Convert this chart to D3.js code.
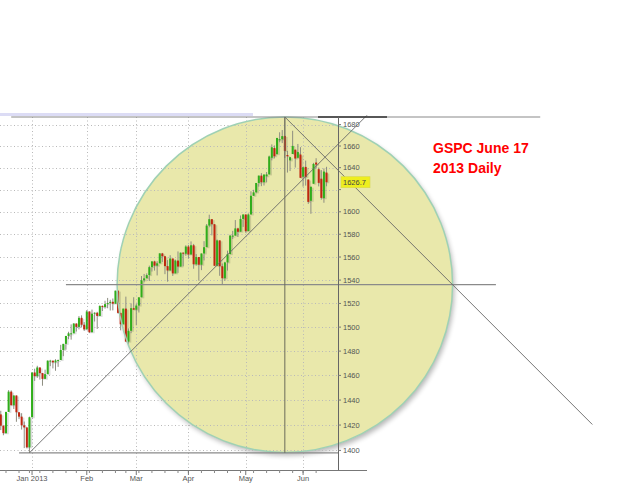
<!DOCTYPE html>
<html><head><meta charset="utf-8">
<script src="https://cdn.jsdelivr.net/npm/d3@7"></script>
<style>html,body{margin:0;padding:0;background:#fff;overflow:hidden}</style>
</head><body>
<svg id="chart" width="640" height="484"></svg>
<script>
// ---- data (S&P 500 daily) ----
const dates = ["2012-12-13","2012-12-14","2012-12-17","2012-12-18","2012-12-19","2012-12-20","2012-12-21","2012-12-24","2012-12-26","2012-12-27","2012-12-28","2012-12-31",
"2013-01-02","2013-01-03","2013-01-04","2013-01-07","2013-01-08","2013-01-09","2013-01-10","2013-01-11","2013-01-14","2013-01-15","2013-01-16","2013-01-17","2013-01-18","2013-01-22","2013-01-23","2013-01-24","2013-01-25","2013-01-28","2013-01-29","2013-01-30","2013-01-31",
"2013-02-01","2013-02-04","2013-02-05","2013-02-06","2013-02-07","2013-02-08","2013-02-11","2013-02-12","2013-02-13","2013-02-14","2013-02-15","2013-02-19","2013-02-20","2013-02-21","2013-02-22","2013-02-25","2013-02-26","2013-02-27","2013-02-28",
"2013-03-01","2013-03-04","2013-03-05","2013-03-06","2013-03-07","2013-03-08","2013-03-11","2013-03-12","2013-03-13","2013-03-14","2013-03-15","2013-03-18","2013-03-19","2013-03-20","2013-03-21","2013-03-22","2013-03-25","2013-03-26","2013-03-27","2013-03-28",
"2013-04-01","2013-04-02","2013-04-03","2013-04-04","2013-04-05","2013-04-08","2013-04-09","2013-04-10","2013-04-11","2013-04-12","2013-04-15","2013-04-16","2013-04-17","2013-04-18","2013-04-19","2013-04-22","2013-04-23","2013-04-24","2013-04-25","2013-04-26","2013-04-29","2013-04-30",
"2013-05-01","2013-05-02","2013-05-03","2013-05-06","2013-05-07","2013-05-08","2013-05-09","2013-05-10","2013-05-13","2013-05-14","2013-05-15","2013-05-16","2013-05-17","2013-05-20","2013-05-21","2013-05-22","2013-05-23","2013-05-24","2013-05-28","2013-05-29","2013-05-30","2013-05-31",
"2013-06-03","2013-06-04","2013-06-05","2013-06-06","2013-06-07","2013-06-10","2013-06-11","2013-06-12","2013-06-13","2013-06-14"];
const opens = [1428.5,1419.5,1413.5,1430.5,1446.8,1435.8,1443.7,1430.2,1426.7,1419.8,1418.1,1402.4,
1426.2,1462.4,1459.4,1466.5,1461.9,1457.2,1461.0,1472.1,1472.1,1470.7,1472.3,1472.6,1480.9,1486.0,1492.6,1494.8,1494.8,1503.0,1500.2,1507.8,1502.0,
1498.1,1513.2,1495.7,1511.3,1512.1,1509.4,1517.9,1517.0,1519.4,1520.3,1521.4,1519.8,1530.9,1512.0,1502.4,1515.6,1487.9,1496.9,1516.0,
1514.7,1518.2,1525.2,1539.8,1541.5,1544.3,1551.2,1556.2,1552.5,1554.5,1563.2,1560.7,1552.1,1548.3,1558.7,1545.8,1556.9,1551.7,1563.8,1562.9,
1569.2,1562.2,1570.3,1553.7,1560.0,1553.3,1563.1,1568.6,1587.7,1593.4,1588.9,1552.4,1574.6,1552.0,1541.6,1555.3,1562.5,1578.8,1578.8,1585.2,1582.3,1593.6,
1597.6,1582.8,1597.6,1614.4,1617.5,1626.0,1632.7,1626.7,1632.1,1633.8,1649.1,1658.1,1652.4,1665.7,1666.2,1669.4,1651.6,1646.7,1652.6,1656.6,1649.1,1652.1,
1631.7,1640.7,1629.1,1609.9,1625.3,1644.7,1638.6,1629.9,1612.2,1635.5];
const highs = [1431.4,1419.5,1430.7,1448.0,1447.8,1443.7,1443.7,1430.2,1429.4,1422.8,1418.1,1426.7,
1462.4,1465.5,1467.9,1466.5,1461.9,1464.7,1472.3,1472.8,1472.1,1473.3,1473.0,1485.2,1486.0,1492.6,1496.1,1502.3,1503.3,1503.2,1509.3,1509.9,1504.2,
1514.4,1513.2,1514.8,1512.5,1512.9,1518.3,1518.3,1522.3,1524.7,1523.1,1524.2,1530.9,1530.9,1512.0,1515.6,1525.8,1498.9,1520.1,1525.3,
1519.9,1525.3,1543.5,1545.3,1545.8,1552.5,1556.3,1556.8,1556.4,1563.3,1563.6,1560.7,1557.3,1561.6,1558.7,1557.7,1564.9,1563.9,1564.1,1570.3,
1570.6,1573.7,1571.5,1562.6,1560.0,1563.1,1573.9,1589.1,1597.4,1593.4,1588.9,1575.4,1574.6,1554.4,1555.9,1565.6,1579.6,1583.0,1592.6,1585.8,1596.7,1597.6,
1597.6,1598.6,1618.5,1619.8,1626.0,1632.8,1635.0,1633.7,1636.0,1651.1,1661.5,1660.5,1667.5,1672.8,1674.9,1687.2,1655.5,1649.8,1674.2,1656.6,1661.9,1658.9,
1640.4,1646.5,1629.3,1622.6,1644.4,1648.7,1640.1,1637.7,1639.3,1640.8];
const lows = [1416.0,1411.9,1413.5,1430.5,1435.8,1432.8,1422.6,1424.7,1416.4,1401.8,1401.6,1398.1,
1426.2,1455.5,1458.0,1456.6,1451.6,1457.2,1461.0,1467.6,1465.7,1463.8,1467.0,1472.6,1475.8,1481.2,1489.9,1489.5,1494.8,1496.3,1498.1,1500.1,1496.8,
1498.1,1495.0,1495.7,1504.7,1498.5,1509.4,1513.6,1515.6,1515.9,1514.0,1514.1,1519.8,1511.4,1497.3,1502.4,1487.9,1485.0,1494.9,1514.7,
1501.5,1512.3,1525.2,1538.1,1541.5,1539.2,1547.4,1548.2,1544.0,1554.5,1555.7,1545.1,1538.6,1548.3,1543.6,1545.8,1546.2,1551.7,1551.9,1561.1,
1558.5,1562.2,1549.8,1552.5,1539.5,1548.6,1557.0,1568.6,1586.2,1579.0,1552.3,1552.4,1543.7,1536.0,1539.4,1548.2,1562.5,1575.8,1578.8,1577.6,1582.3,1586.5,
1581.3,1582.8,1597.6,1614.2,1616.6,1622.7,1623.1,1623.7,1626.7,1633.8,1646.7,1648.6,1652.4,1663.5,1662.7,1648.9,1635.5,1636.9,1652.6,1640.1,1648.6,1630.7,
1622.7,1623.6,1607.1,1598.2,1625.3,1639.3,1622.9,1610.9,1608.1,1623.0];
const closes = [1419.5,1413.6,1430.4,1446.8,1435.8,1443.7,1430.2,1426.7,1419.8,1418.1,1402.4,1426.2,
1462.4,1459.4,1466.5,1461.9,1457.2,1461.0,1472.1,1472.1,1470.7,1472.3,1472.6,1480.9,1486.0,1492.6,1494.8,1494.8,1503.0,1500.2,1507.8,1502.0,1498.1,
1513.2,1495.7,1511.3,1512.1,1509.4,1517.9,1517.0,1519.4,1520.3,1521.4,1519.8,1530.9,1512.0,1502.4,1515.6,1487.9,1496.9,1516.0,1514.7,
1518.2,1525.2,1539.8,1541.5,1544.3,1551.2,1556.2,1552.5,1554.5,1563.2,1560.7,1552.1,1548.3,1558.7,1545.8,1556.9,1551.7,1563.8,1562.9,1569.2,
1562.2,1570.3,1553.7,1560.0,1553.3,1563.1,1568.6,1587.7,1593.4,1588.9,1552.4,1574.6,1552.0,1541.6,1555.3,1562.5,1578.8,1578.8,1585.2,1582.2,1593.6,1597.6,
1582.7,1597.6,1614.4,1617.5,1626.0,1632.7,1626.7,1633.7,1633.8,1650.3,1658.8,1650.5,1667.5,1666.3,1669.2,1655.4,1650.5,1649.6,1660.1,1648.4,1654.4,1630.7,
1640.4,1631.4,1608.9,1622.6,1643.4,1642.8,1626.1,1612.5,1636.4,1626.7];

const yTicks = [1400,1420,1440,1460,1480,1500,1520,1540,1560,1580,1600,1620,1640,1660,1680];
const monthStarts = ["2013-01-02","2013-02-01","2013-03-01","2013-04-01","2013-05-01","2013-06-03"];
const monthLabels = ["Jan 2013","Feb","Mar","Apr","May","Jun"];
const titleLines = ["GSPC June 17","2013 Daily"];
const lastPriceLabel = "1626.7";

// drawing-tool anchors (date, price)
const lowAnchor  = {date:"2012-12-31", price:1398.11};
const highAnchor = {date:"2013-05-22", price:1687.18};
const pivotAnchor = {date:"2013-04-18", price:1536.03};
// ---------------------------------------------

const svg = d3.select("#chart");
const W = 640, H = 484;
const plot = {left:0, right:338, top:117, bottom:470};

const idx = d => dates.indexOf(d);
const x = d3.scaleLinear().domain([-0.3, 129.4]).range([plot.left, plot.right]);
const y = d3.scaleLog().domain([1400, 1680]).range([450.4, 124.6]);

svg.append("rect").attr("width",W).attr("height",H).attr("fill","#fff");

const defs = svg.append("defs");
defs.append("filter").attr("id","blur").attr("x","-20%").attr("y","-20%").attr("width","140%").attr("height","140%")
  .append("feGaussianBlur").attr("stdDeviation",2.5);

const cx = x(idx(highAnchor.date)), cy = y(pivotAnchor.price);
const r = y(pivotAnchor.price) - y(highAnchor.price);

const mask = defs.append("mask").attr("id","outside");
mask.append("rect").attr("width",W).attr("height",H).attr("fill","#fff");
mask.append("circle").attr("cx",cx).attr("cy",cy).attr("r",r).attr("fill","#000");

// scrollbar-like band at top
svg.append("rect").attr("x",0).attr("y",113).attr("width",253).attr("height",3).attr("fill","#dcdcf5");

// circle shadow + fill
svg.append("circle").attr("cx",cx+2).attr("cy",cy+3).attr("r",r)
  .attr("fill","#000").attr("opacity",0.28).attr("filter","url(#blur)").attr("mask","url(#outside)");
svg.append("circle").attr("cx",cx).attr("cy",cy).attr("r",r).attr("fill","#e9e8ab");

// grid
const grid = svg.append("g").attr("stroke","#b9b9b9").attr("stroke-width",1).attr("stroke-dasharray","1,2.5");
grid.selectAll("line.h").data(yTicks).join("line").attr("class","h")
  .attr("x1",plot.left).attr("x2",plot.right).attr("y1",d=>Math.round(y(d))+0.5).attr("y2",d=>Math.round(y(d))+0.5);
grid.selectAll("line.v").data(monthStarts).join("line").attr("class","v")
  .attr("x1",d=>Math.round(x(idx(d)))+0.5).attr("x2",d=>Math.round(x(idx(d)))+0.5).attr("y1",plot.top).attr("y2",plot.bottom);

// candles
const bars = dates.map((d,i)=>({i, o:opens[i], h:highs[i], l:lows[i], c:closes[i]}));
const bw = 2;
const cg = svg.append("g");
cg.selectAll("rect.sh").data(bars).join("rect").attr("class","sh")
  .attr("x",d=>x(d.i)-bw/2+1.2).attr("y",d=>y(Math.max(d.o,d.c))+1)
  .attr("width",bw+0.6).attr("height",d=>Math.max(1,Math.abs(y(d.o)-y(d.c))))
  .attr("fill","#000").attr("opacity",0.13);
cg.selectAll("line.w").data(bars).join("line").attr("class","w")
  .attr("x1",d=>x(d.i)).attr("x2",d=>x(d.i)).attr("y1",d=>y(d.h)).attr("y2",d=>y(d.l))
  .attr("stroke","#8d8d80").attr("stroke-width",1);
cg.selectAll("rect.b").data(bars).join("rect").attr("class","b")
  .attr("x",d=>x(d.i)-bw/2).attr("y",d=>y(Math.max(d.o,d.c)))
  .attr("width",bw).attr("height",d=>Math.max(1,Math.abs(y(d.o)-y(d.c))))
  .attr("fill",d=>d.c>=d.o?"#2fae1a":"#c0260f");

// circle outline
svg.append("circle").attr("cx",cx).attr("cy",cy).attr("r",r).attr("fill","none")
  .attr("stroke","#9fd1b4").attr("stroke-width",1.5);

// drawing lines
const lg = svg.append("g").attr("fill","none");
const xLow = x(idx(lowAnchor.date)), yLow = y(lowAnchor.price);
const xHigh = cx, yHigh = y(highAnchor.price);
const step = x(1)-x(0);
const hLines = [
  {p:highAnchor.price, i1:4, i2:207},
  {p:pivotAnchor.price, i1:25, i2:190},
  {p:lowAnchor.price, i1:7, i2:129.4}
];
lg.selectAll("line.hz").data(hLines).join("line").attr("class","hz")
  .attr("x1",d=>x(d.i1)).attr("x2",d=>x(d.i2)).attr("y1",d=>y(d.p)).attr("y2",d=>y(d.p))
  .attr("stroke","#8a8a8a").attr("stroke-width",1.2);
// dark segment on the top border
svg.append("line").attr("x1",318).attr("x2",387).attr("y1",yHigh).attr("y2",yHigh).attr("stroke","#333").attr("stroke-width",1.6);
// vertical from high to low
lg.append("line").attr("x1",xHigh).attr("x2",xHigh).attr("y1",yHigh).attr("y2",yLow).attr("stroke","#6a6a5a").attr("stroke-width",1);
// 45-degree lines (in pixel space)
const ascBars = 129.5, descBars = 118;
lg.append("line").attr("x1",xLow).attr("y1",yLow).attr("x2",xLow+ascBars*step).attr("y2",yLow-ascBars*step)
  .attr("stroke","#666").attr("stroke-width",0.9);
lg.append("line").attr("x1",xHigh).attr("y1",yHigh).attr("x2",xHigh+descBars*step).attr("y2",yHigh+descBars*step)
  .attr("stroke","#666").attr("stroke-width",0.9);

// axes
const ax = svg.append("g");
ax.append("line").attr("x1",338.5).attr("x2",338.5).attr("y1",plot.top).attr("y2",plot.bottom).attr("stroke","#666");
ax.append("line").attr("x1",0).attr("x2",367).attr("y1",470.5).attr("y2",470.5).attr("stroke","#777");

const lastY = y(closes[closes.length-1]);
const shownTicks = yTicks.filter(t=>Math.abs(y(t)-lastY)>9);
ax.selectAll("line.yt").data(yTicks).join("line").attr("class","yt")
  .attr("x1",338).attr("x2",341).attr("y1",d=>y(d)).attr("y2",d=>y(d)).attr("stroke","#777");
ax.selectAll("text.yl").data(shownTicks).join("text").attr("class","yl")
  .attr("x",343).attr("y",d=>y(d)).attr("dy","0.35em")
  .attr("font-family","Liberation Sans, Arial, sans-serif").attr("font-size",7.5).attr("fill","#555")
  .text(d=>d);

// week ticks & month ticks
const weekStarts = dates.filter((d,i)=> i>0 && new Date(d).getUTCDay() < new Date(dates[i-1]).getUTCDay());
ax.selectAll("line.wk").data(weekStarts).join("line").attr("class","wk")
  .attr("x1",d=>x(idx(d))).attr("x2",d=>x(idx(d))).attr("y1",470).attr("y2",473).attr("stroke","#888");
ax.selectAll("line.mt").data(monthStarts).join("line").attr("class","mt")
  .attr("x1",d=>x(idx(d))).attr("x2",d=>x(idx(d))).attr("y1",470).attr("y2",475).attr("stroke","#777");
ax.selectAll("text.xl").data(monthStarts).join("text").attr("class","xl")
  .attr("x",d=>x(idx(d))).attr("y",481).attr("text-anchor","middle")
  .attr("font-family","Liberation Sans, Arial, sans-serif").attr("font-size",7.5).attr("fill","#555")
  .text((d,i)=>monthLabels[i]);

// last price label
svg.append("rect").attr("x",341).attr("y",lastY-5.5).attr("width",29).attr("height",11)
  .attr("fill","#eeee1e").attr("stroke","#d6d650").attr("stroke-width",0.6);
svg.append("text").attr("x",343).attr("y",lastY).attr("dy","0.35em")
  .attr("font-family","Liberation Sans, Arial, sans-serif").attr("font-size",7.5).attr("fill","#444")
  .text(lastPriceLabel);

// title
svg.selectAll("text.title").data(titleLines).join("text").attr("class","title")
  .attr("x",433).attr("y",(d,i)=>152.5+i*20.5)
  .attr("font-family","Liberation Sans, Arial, sans-serif").attr("font-weight","bold").attr("font-size",14)
  .attr("fill","#ff0000").text(d=>d);
</script>
</body></html>
